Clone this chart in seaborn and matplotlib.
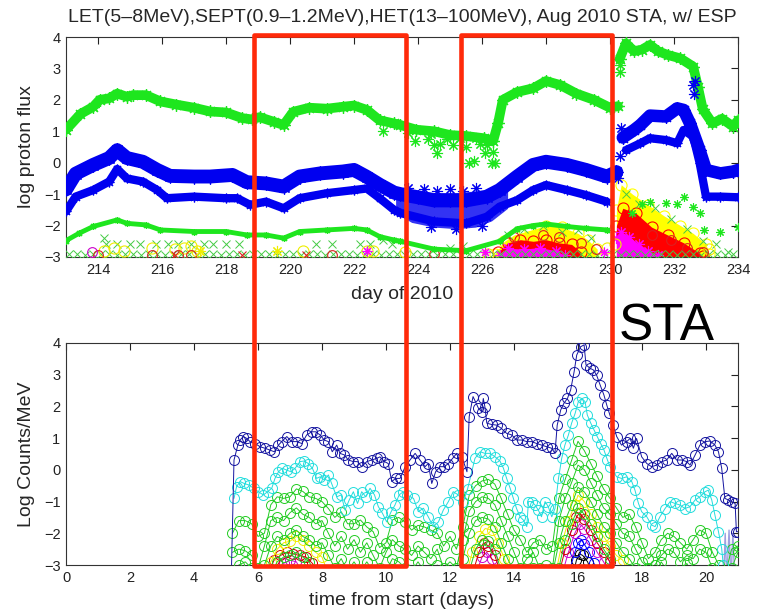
import numpy as np
import matplotlib
matplotlib.use("Agg")
import matplotlib.pyplot as plt
import matplotlib.transforms as mtransforms
from matplotlib.patches import Rectangle
import seaborn as sns

sns.set_theme(style="white")
plt.rcParams["font.family"] = ["Liberation Sans", "DejaVu Sans"]

# ---------------------------------------------------------------- top panel data
# LET 5-8 MeV (upper green band), before and after the day-230 jump
LET_DAY = [213.0, 213.45, 213.85, 214.05, 214.35, 214.6, 214.9, 215.1, 215.5, 215.95,
           216.45, 217.0, 217.5, 218.0, 218.5, 218.8, 219.05, 219.5, 219.8, 220.1,
           220.6, 221.15, 221.65, 222.0, 222.4, 222.8, 223.25, 223.45, 223.95, 224.5,
           225.0, 225.5, 226.05, 226.35, 226.5, 226.65, 227.1, 227.6, 228.0, 228.45,
           228.95, 229.5, 230.0, 230.25]
LET_VAL = [1.05, 1.55, 1.78, 2.0, 2.05, 2.2, 2.1, 2.15, 2.15, 1.95,
           1.85, 1.75, 1.63, 1.6, 1.42, 1.38, 1.45, 1.3, 1.2, 1.62,
           1.75, 1.72, 1.78, 1.82, 1.68, 1.35, 1.25, 1.2, 1.05, 1.0,
           0.88, 0.85, 0.78, 0.7, 1.25, 2.0, 2.25, 2.37, 2.6, 2.47,
           2.2, 2.0, 1.75, 1.8]
LET2_DAY = [230.3, 230.5, 230.75, 231.0, 231.25, 231.5, 231.8, 232.2, 232.6, 232.75,
            232.9, 233.2, 233.5, 233.85, 234.0]
LET2_VAL = [3.3, 3.8, 3.55, 3.6, 3.75, 3.55, 3.43, 3.32, 3.06, 2.4,
            1.7, 1.25, 1.4, 1.15, 1.35]
LET_OUT_DAY = [222.9, 223.7, 223.9, 224.3, 224.4, 224.5, 224.6, 224.7, 224.9, 225.1, 225.3,
               225.5, 225.6, 225.75, 225.8, 225.95, 226.1, 226.15, 226.3, 226.35, 226.4,
               230.3, 230.32]
LET_OUT_VAL = [1.0, 0.95, 0.7, 0.75, 0.9, 0.55, 0.3, 0.6, 0.75, 0.55, 0.8,
               0.5, 0.0, 0.05, 0.8, 0.6, 0.3, 0.55, 0.0, 0.35, 0.0,
               2.9, 3.1]

# SEPT 0.9-1.2 MeV (upper blue band)
SEPT_DAY = [213.0, 213.3, 213.85, 214.35, 214.6, 214.9, 215.4, 215.85, 216.25, 217.0,
            217.5, 218.2, 218.65, 219.25, 219.8, 220.3, 220.95, 221.65, 222.0, 222.4,
            222.8, 223.25, 223.45, 224.0, 224.5, 225.0, 225.5, 226.15, 226.55, 227.1,
            227.6, 228.0, 228.65, 229.25, 229.9, 230.2]
SEPT_VAL = [-0.85, -0.35, -0.07, 0.15, 0.4, 0.15, 0.03, -0.23, -0.42, -0.44,
            -0.44, -0.39, -0.62, -0.66, -0.76, -0.44, -0.34, -0.28, -0.23, -0.45,
            -0.7, -0.95, -1.0, -1.1, -1.2, -1.2, -1.2, -1.08, -0.87, -0.44,
            -0.07, 0.03, -0.07, -0.23, -0.44, -0.3]
SEPT2_DAY = [230.4, 230.75, 230.95, 231.25, 231.75, 232.1, 232.3, 232.5, 232.8, 233.0,
             233.45, 233.85, 234.0]
SEPT2_VAL = [0.8, 1.04, 1.2, 1.5, 1.47, 1.73, 1.68, 1.25, 0.4, -0.23,
             -0.34, -0.28, -0.23]
SEPT_OUT_DAY = [223.7, 224.2, 224.6, 225.0, 225.4, 225.8, 224.4, 225.2, 226.0, 230.25,
                230.3, 230.35, 232.6, 232.62, 232.65]
SEPT_OUT_VAL = [-0.8, -0.85, -0.9, -0.85, -0.9, -0.8, -2.05, -2.1, -2.0, -0.5,
                0.2, 1.1, 2.47, 2.2, 2.6]
# broad scatter of the two blue channels during days 223-227
SPREAD_DAY = [223.3, 223.8, 224.5, 225.2, 225.8, 226.3, 226.8]
SPREAD_TOP = [-0.9, -0.85, -0.95, -0.95, -0.9, -0.95, -0.8]
SPREAD_BOT = [-1.6, -1.9, -2.05, -2.1, -2.05, -1.85, -1.45]

# HET 13-100 MeV (lower blue band)
HET_DAY = [213.0, 213.3, 213.85, 214.35, 214.6, 214.9, 215.4, 215.85, 216.15, 217.0,
           218.0, 218.35, 218.75, 219.25, 219.8, 220.3, 221.15, 222.0, 222.4, 222.8,
           223.25, 223.45, 224.5, 225.5, 226.15, 226.55, 227.1, 227.6, 228.0, 228.65,
           229.25, 229.9]
HET_VAL = [-1.55, -1.08, -0.87, -0.6, -0.2, -0.5, -0.6, -0.87, -1.13, -1.08,
           -1.13, -1.13, -1.34, -1.24, -1.45, -1.13, -0.97, -0.87, -0.82, -1.13,
           -1.5, -1.6, -1.87, -1.93, -1.72, -1.4, -1.19, -0.87, -0.71, -0.87,
           -1.03, -1.24]
HET2_DAY = [230.5, 230.95, 231.25, 231.75, 232.1, 232.3, 232.6, 232.8, 233.0, 233.45, 234.0]
HET2_VAL = [0.4, 0.62, 0.78, 0.72, 0.62, 1.04, 0.83, 0.0, -1.08, -1.08, -1.1]

# lower green band
GLO_DAY = [213.0, 213.4, 213.85, 214.6, 214.9, 215.5, 215.95, 217.0, 218.0, 218.65,
           219.25, 219.8, 220.3, 221.15, 222.0, 222.4, 222.8, 223.25, 223.45, 224.5,
           225.5, 226.55, 227.1, 227.6, 228.0, 228.65, 229.25, 229.9]
GLO_VAL = [-2.48, -2.25, -2.03, -1.82, -1.93, -1.98, -2.14, -2.19, -2.19, -2.3,
           -2.3, -2.4, -2.19, -2.14, -2.09, -2.14, -2.35, -2.46, -2.5, -2.75,
           -2.8, -2.5, -2.1, -2.0, -1.95, -2.03, -2.09, -2.14]
GLO2_DAY = [230.7, 231.0, 231.25, 231.75, 232.1, 232.3, 232.6, 232.8, 232.95, 233.45, 234.0]
GLO2_VAL = [-1.6, -1.3, -1.24, -1.29, -1.3, -1.08, -1.4, -1.6, -2.15, -2.2, -2.05]

# row of green crosses near the floor
XROW_DAY = [213.1, 213.35, 213.6, 213.85, 214.1, 214.35, 214.6, 214.85, 215.1, 215.35,
            215.6, 215.85, 216.1, 216.35, 216.6, 216.85, 217.1, 217.35, 217.6, 217.85,
            218.1, 218.35, 218.6, 218.85, 219.1, 219.35, 219.6, 219.85, 220.1, 220.35,
            220.6, 220.85, 221.1, 221.35, 221.6, 221.85, 222.1, 222.35, 222.6, 222.85,
            223.1, 223.35, 223.6, 223.85, 224.1, 224.35, 224.6, 224.85, 225.1, 225.35,
            225.6, 225.85, 226.1, 226.35, 226.6, 226.85, 227.1, 227.35, 227.6, 227.85,
            228.1, 228.35, 228.6, 228.85, 229.1, 229.35, 229.6, 229.85, 230.1, 230.35,
            230.6, 230.85, 231.1, 231.35, 231.6, 231.85, 232.1, 232.35, 232.6, 232.85,
            233.1, 233.35, 233.6, 233.85]
XROW_VAL = [-2.92, -2.9, -2.93, -2.91, -2.92, -2.9, -2.93, -2.92, -2.91, -2.93,
            -2.9, -2.92, -2.93, -2.91, -2.92, -2.9, -2.93, -2.92, -2.91, -2.93,
            -2.9, -2.92, -2.93, -2.91, -2.92, -2.9, -2.93, -2.92, -2.91, -2.93,
            -2.9, -2.92, -2.93, -2.91, -2.92, -2.9, -2.93, -2.92, -2.91, -2.93,
            -2.9, -2.92, -2.93, -2.91, -2.92, -2.9, -2.93, -2.92, -2.91, -2.93,
            -2.9, -2.92, -2.93, -2.91, -2.92, -2.9, -2.93, -2.92, -2.91, -2.93,
            -2.9, -2.92, -2.93, -2.91, -2.92, -2.9, -2.93, -2.92, -2.91, -2.93,
            -2.9, -2.92, -2.93, -2.91, -2.92, -2.9, -2.93, -2.92, -2.91, -2.93,
            -2.9, -2.92, -2.93, -2.91]
XHI_DAY = [214.2, 214.25, 214.6, 215.0, 215.3, 215.8, 216.2, 216.5, 216.9, 217.3, 217.6,
           218.0, 218.4, 220.8, 221.3, 222.2, 222.5, 222.9, 223.2, 225.0, 225.4,
           226.8, 227.3, 227.9, 228.5, 229.0, 229.4, 230.5, 230.9, 231.4, 231.9,
           232.4, 232.9, 233.3, 233.7]
XHI_VAL = [-2.4, -2.6, -2.6, -2.6, -2.6, -2.6, -2.6, -2.6, -2.6, -2.6, -2.6,
           -2.6, -2.6, -2.6, -2.6, -2.6, -2.6, -2.45, -2.6, -2.7, -2.65,
           -2.3, -2.1, -2.0, -2.2, -2.15, -2.4, -1.0, -1.3, -1.45, -1.8,
           -2.1, -2.5, -2.6, -2.85]

# particle bursts (yellow / red / magenta envelopes)
YEL1_DAY = [226.4, 226.7, 227.0, 227.5, 228.0, 228.5, 229.0, 229.3, 229.6]
YEL1_TOP = [-2.9, -2.5, -2.3, -2.15, -2.0, -2.05, -2.25, -2.45, -2.75]
RED1_DAY = [226.5, 226.8, 227.2, 227.6, 228.0, 228.4, 228.8, 229.1]
RED1_TOP = [-2.85, -2.55, -2.45, -2.5, -2.45, -2.55, -2.6, -2.85]
MAG1_DAY = [226.55, 226.8, 227.3, 227.8, 228.3, 228.6]
MAG1_TOP = [-2.95, -2.72, -2.75, -2.7, -2.8, -2.95]
YEL2_DAY = [230.2, 230.35, 230.7, 231.2, 231.7, 232.2, 232.6, 233.0, 233.1]
YEL2_TOP = [-1.5, -0.7, -1.0, -1.35, -1.7, -2.0, -2.25, -2.6, -2.9]
RED2_DAY = [230.2, 230.4, 230.8, 231.3, 231.8, 232.3, 232.8, 232.9]
RED2_TOP = [-2.0, -1.45, -1.6, -2.05, -2.3, -2.55, -2.88, -2.98]
MAG2_DAY = [230.2, 230.35, 230.6, 230.9, 231.2, 231.5]
MAG2_TOP = [-2.4, -2.2, -2.35, -2.6, -2.8, -2.95]

YC_DAY = [214.2, 214.5, 214.8, 215.7, 216.4, 216.7, 216.9, 217.1, 220.4, 222.4, 222.6, 223.6,
          226.2, 229.9, 230.15, 233.1]
YC_VAL = [-2.8, -2.7, -2.8, -2.7, -2.75, -2.7, -2.65, -2.8, -2.8, -2.8, -2.8, -2.85,
          -2.9, -2.7, -2.6, -2.75]
RC_DAY = [214.0, 215.7, 216.5, 216.9, 221.3, 224.5, 227.0, 227.9, 228.4, 229.1, 229.55,
          231.3, 231.9, 232.4, 232.9]
RC_VAL = [-2.95, -2.95, -2.95, -2.95, -2.95, -2.9, -2.35, -2.3, -2.35, -2.55, -2.75,
          -2.3, -2.45, -2.7, -2.85]
RX_DAY = [216.4, 218.5, 220.5]
RX_VAL = [-2.95, -2.95, -2.95]
MC_DAY = [213.8]
MC_VAL = [-2.85]
MS_DAY = [222.4, 226.1, 229.8]
MS_VAL = [-2.8, -2.85, -2.85]
YS_DAY = [217.2, 219.6]
YS_VAL = [-2.8, -2.8]

# ------------------------------------------------------------- bottom panel data
NAVY_T = [5.15, 5.25, 5.37, 5.44, 5.54, 5.65, 5.75, 5.91, 6.06, 6.22, 6.38, 6.51, 6.64, 6.74,
          6.9, 7.05, 7.21, 7.37, 7.52, 7.68, 7.8, 7.94, 8.07, 8.2, 8.32, 8.46, 8.56, 8.7,
          8.82, 8.98, 9.11, 9.24, 9.4, 9.55, 9.71, 9.81, 9.95, 10.07, 10.18, 10.3, 10.44,
          10.6, 10.75, 10.91, 11.06, 11.22, 11.32, 11.43, 11.55, 11.69, 11.82, 11.95, 12.08,
          12.21, 12.37, 12.53, 12.6, 12.72, 12.89, 12.99, 13.04, 13.09, 13.15, 13.3, 13.46,
          13.6, 13.77, 13.93, 14.08, 14.24, 14.4, 14.55, 14.71, 14.86, 15.02, 15.18, 15.28,
          15.35, 15.46, 15.56, 15.67, 15.77, 15.88, 15.96, 16.08, 16.19, 16.25, 16.38, 16.48,
          16.58, 16.69, 16.81, 16.9, 16.98, 17.1, 17.21, 17.36, 17.52, 17.63, 17.73, 17.83,
          17.99, 18.15, 18.3, 18.46, 18.62, 18.77, 18.93, 19.08, 19.24, 19.4, 19.5, 19.66,
          19.81, 19.97, 20.13, 20.28, 20.39, 20.49, 20.59, 20.7, 20.8, 20.91, 20.95, 21.0]
NAVY_V = [-4.0, 0.31, 0.78, 0.94, 1.05, 0.99, 0.89, 0.83, 0.73, 0.68, 0.62, 0.57, 0.78, 0.89,
          1.05, 0.89, 0.89, 0.83, 1.1, 1.2, 1.2, 1.1, 0.94, 0.89, 0.57, 0.78, 0.52, 0.47,
          0.31, 0.26, 0.26, 0.1, 0.26, 0.31, 0.36, 0.41, 0.26, 0.2, -0.37, -0.27, -0.27,
          0.1, 0.31, 0.52, 0.31, 0.1, 0.2, -0.43, -0.06, 0.1, 0.1, 0.2, 0.36,
          0.52, 0.41, -0.06, 1.68, 2.31, 1.94, 1.83, 2.25, 1.99, 1.47, 1.43, 1.41,
          1.31, 1.15, 1.1, 0.94, 0.94, 0.89, 0.89, 0.83, 0.78, 0.73, 0.68, 0.52,
          1.41, 1.89, 2.1, 2.25, 2.52, 3.1, 3.62, 3.88, 3.94, 3.31, 3.2, 3.15,
          2.99, 2.68, 2.36, 2.04, 1.78, 1.4, 1.05, 0.78, 0.89, 0.99, 0.68, 0.99,
          0.41, 0.2, 0.1, 0.15, 0.26, 0.31, 0.52, 0.31, 0.31, 0.26, 0.15, 0.47,
          0.78, 0.89, 0.91, 0.78, 0.57, 0.05, -0.9, -0.95, -1.0, -1.06, -1.95, -1.95]

CYAN_T = [5.25, 5.33, 5.44, 5.57, 5.72, 5.86, 6.01, 6.17, 6.3, 6.43, 6.53, 6.64, 6.76, 6.9,
          7.03, 7.16, 7.31, 7.45, 7.57, 7.7, 7.83, 7.94, 8.07, 8.2, 8.3, 8.46, 8.6, 8.72,
          8.85, 8.98, 9.11, 9.24, 9.37, 9.5, 9.64, 9.76, 9.89, 10.02, 10.16, 10.28, 10.41,
          10.54, 10.65, 10.86, 11.01, 11.17, 11.32, 11.48, 11.64, 11.79, 11.95, 12.1, 12.26,
          12.42, 12.55, 12.78, 12.94, 13.09, 13.25, 13.41, 13.56, 13.67, 13.77, 13.88, 13.98,
          14.08, 14.19, 14.29, 14.4, 14.45, 14.55, 14.66, 14.76, 14.86, 14.97, 15.07, 15.18,
          15.28, 15.39, 15.49, 15.59, 15.7, 15.8, 15.91, 16.01, 16.12, 16.22, 16.29, 16.4,
          16.5, 16.6, 16.71, 16.81, 16.92, 17.0, 17.21, 17.36, 17.52, 17.68, 17.78, 17.89,
          17.99, 18.15, 18.3, 18.41, 18.56, 18.72, 18.88, 19.03, 19.19, 19.34, 19.5, 19.66,
          19.81, 19.97, 20.07, 20.18, 20.28, 20.39, 20.49, 20.54]
CYAN_V = [-0.9, -0.53, -0.37, -0.43, -0.48, -0.58, -0.69, -0.79, -0.69, -0.58, -0.27, -0.06, 0.05, -0.01,
          -0.06, 0.05, 0.26, 0.28, 0.2, 0.05, -0.27, -0.22, -0.32, -0.16, -0.43, -0.85, -0.79, -1.27,
          -0.95, -0.69, -1.06, -0.69, -0.85, -0.58, -0.79, -1.16, -1.37, -1.64, -1.32, -1.11, -0.79,
          -0.69, -0.79, -0.9, -1.32, -1.21, -1.48, -1.79, -1.64, -1.27, -1.0, -0.69, -0.79,
          -1.0, -0.6, 0.36, 0.57, 0.52, 0.52, 0.41, 0.28, 0.05, -0.27, -0.58, -0.9,
          -1.22, -1.48, -1.58, -1.79, -1.0, -1.0, -1.11, -1.27, -1.48, -1.0, -1.16, -1.48,
          -1.22, -0.27, 0.36, 0.78, 1.1, 1.47, 1.78, 2.15, 2.25, 2.15, 1.73, 1.47,
          1.26, 1.05, 0.83, 0.63, 0.31, 0.1, -0.22, -0.27, -0.22, -0.37, -0.64, -1.06,
          -1.32, -1.48, -1.74, -1.79, -1.48, -1.22, -1.0, -1.06, -1.11, -1.22, -1.16, -0.95,
          -0.85, -0.69, -0.64, -0.95, -1.43, -1.95, -2.48, -3.0]

T_G = [5.2, 5.4, 5.6, 5.8, 6.0, 6.2, 6.4, 6.6, 6.8, 7.0, 7.2, 7.4, 7.6, 7.8, 8.0, 8.2,
       8.4, 8.6, 8.8, 9.0, 9.2, 9.4, 9.6, 9.8, 10.0, 10.2, 10.4, 10.6, 10.8, 11.0, 11.2,
       11.4, 11.6, 11.8, 12.0, 12.2, 12.4, 12.6, 12.8, 13.0, 13.2, 13.4, 13.6, 13.8, 14.0,
       14.2, 14.4, 14.6, 14.8, 15.0, 15.2, 15.4, 15.6, 15.8, 16.0, 16.2, 16.4, 16.6, 16.8,
       17.0, 17.2, 17.4, 17.6, 17.8, 18.0, 18.2, 18.4, 18.6, 18.8, 19.0, 19.2, 19.4, 19.6,
       19.8, 20.0, 20.2, 20.4, 20.6, 20.8, 21.0]
G1_V = [-2.0, -1.6, -1.6, -1.7, -2.1, -2.0, -1.1, -0.85, -0.9, -0.85, -0.6, -0.68, -0.85, -0.9, -1.0, -1.22,
        -1.5, -1.32, -1.7, -1.7, -1.58, -1.8, -1.95, -2.45, -2.3, -1.58, -1.5, -1.65, -1.9, -1.75, -1.8,
        -1.9, -2.0, -2.4, -2.1, -2.5, -1.8, -0.8, -0.5, -0.35, -0.3, -0.45, -0.9, -1.4, -1.9,
        -2.2, -2.6, -2.3, -2.2, -2.5, -2.4, -0.9, -0.3, 0.3, 0.9, 0.6, 0.2, -0.2, -0.6,
        -0.9, -1.2, -1.5, -1.4, -1.8, -2.3, -2.8, -2.6, -2.2, -2.0, -2.1, -2.3, -2.5, -2.2,
        -1.9, -2.0, -2.6, -3.0, -3.3, -2.5, -2.4]
G2_V = [-2.6, -2.5, -2.55, -2.7, -3.1, -2.4, -1.6, -1.5, -1.6, -1.35, -1.2, -1.4, -1.5, -1.7, -1.6, -2.0,
        -2.4, -2.1, -2.5, -2.2, -2.6, -2.3, -2.7, -3.1, -2.6, -2.2, -2.4, -2.5, -2.7, -2.4, -2.6,
        -2.8, -2.5, -3.1, -2.9, -3.1, -2.2, -1.3, -1.0, -0.85, -0.9, -1.1, -1.6, -2.1, -2.6,
        -3.1, -2.8, -2.6, -3.1, -3.0, -3.1, -1.6, -0.9, -0.4, 0.15, 0.0, -0.4, -0.8, -1.2,
        -1.4, -1.7, -2.0, -2.1, -2.5, -2.9, -3.1, -3.0, -2.7, -2.5, -2.6, -2.9, -2.7, -2.8,
        -2.5, -2.6, -3.1, -3.2, -3.2, -3.1, -2.6]
G3_V = [-3.2, -3.0, -2.9, -3.1, -3.3, -3.0, -2.4, -2.1, -2.2, -2.0, -1.9, -2.1, -2.2, -2.4, -2.3, -2.7,
        -3.1, -2.8, -3.2, -2.9, -3.2, -2.9, -3.2, -3.3, -3.2, -2.8, -2.9, -3.1, -3.2, -2.9, -3.2,
        -3.3, -3.0, -3.3, -3.3, -3.3, -2.8, -2.0, -1.6, -1.5, -1.55, -1.8, -2.3, -2.8, -3.2,
        -3.3, -3.2, -3.1, -3.3, -3.3, -3.3, -2.3, -1.6, -1.1, -0.55, -0.7, -1.0, -1.4, -1.8,
        -2.0, -2.3, -2.6, -2.8, -3.1, -3.3, -3.3, -3.3, -2.9, -3.2, -3.3, -3.3, -2.95, -3.3,
        -3.3, -3.3, -3.3, -3.3, -3.3, -3.3, -3.3]
G4_T = [6.4, 6.6, 6.8, 7.0, 7.2, 7.4, 7.6, 7.8, 12.6, 12.8, 13.0, 13.2, 13.4, 13.6,
        15.4, 15.6, 15.8, 16.0, 16.2, 16.4, 16.6, 16.8, 17.0, 17.2]
G4_V = [-3.3, -2.9, -2.75, -2.7, -2.6, -2.75, -2.9, -3.3, -3.2, -2.5, -2.2, -2.25, -2.5, -3.2,
        -3.1, -2.2, -1.7, -1.2, -1.4, -1.7, -2.1, -2.5, -2.8, -3.2]
YEL_T = [6.2, 6.4, 6.6, 6.8, 7.0, 7.2, 7.4, 7.6, 7.8, 8.0, 8.2, 12.5, 12.7, 12.9, 13.1, 13.3,
         13.5, 13.7, 13.9, 15.3, 15.5, 15.7, 15.9, 16.0, 16.2, 16.4, 16.6, 16.8, 17.0, 17.2,
         17.4, 17.6]
YEL_V = [-3.3, -2.9, -2.5, -2.3, -2.25, -2.1, -2.2, -2.4, -2.6, -2.75, -3.3, -3.3, -2.6, -2.1, -1.85, -1.9,
         -2.3, -2.8, -3.3, -3.3, -2.3, -1.6, -1.1, -0.8, -1.0, -1.4, -1.8, -2.1, -2.4, -2.7,
         -2.85, -3.3]
RED_T = [6.3, 6.5, 6.7, 6.9, 7.1, 7.3, 7.5, 7.7, 7.9, 12.7, 12.9, 13.05, 13.2, 13.4, 13.6,
         15.4, 15.6, 15.8, 15.95, 16.05, 16.2, 16.4, 16.6, 16.8, 17.0, 17.2]
RED_V = [-3.3, -2.85, -2.7, -2.6, -2.65, -2.7, -2.75, -2.95, -3.3, -3.3, -2.6, -2.3, -2.4, -2.7, -3.3,
         -3.3, -2.5, -1.9, -1.5, -1.35, -1.55, -1.9, -2.3, -2.6, -2.9, -3.3]
MAG_T = [6.6, 6.8, 7.0, 7.2, 7.4, 12.8, 13.0, 13.15, 13.3, 13.5, 15.5, 15.7, 15.9, 16.05,
         16.2, 16.4, 16.6, 16.8, 17.0]
MAG_V = [-3.3, -2.95, -2.85, -2.9, -3.3, -3.3, -2.75, -2.6, -2.8, -3.3, -3.3, -2.6, -2.0, -1.7,
         -1.85, -2.2, -2.6, -2.9, -3.3]
BLU_T = [15.7, 15.9, 16.0, 16.1, 16.2, 16.35, 16.5, 16.7]
BLU_V = [-3.3, -2.6, -2.3, -2.2, -2.35, -2.6, -2.95, -3.3]
BLK_T = [15.85, 15.95, 16.05, 16.15, 16.3, 16.45]
BLK_V = [-3.3, -2.85, -2.65, -2.7, -2.9, -3.3]
LAV_T = [20.55, 20.6, 20.65, 20.72, 20.78, 20.84, 20.9]
LAV_V = [-3.5, -2.0, -3.5, -1.9, -3.5, -2.0, -3.5]

# highlighted intervals (day of year)
WINDOWS = [(218.89, 223.63), (225.33, 230.07)]

TITLE = "LET(5\u20138MeV),SEPT(0.9\u20131.2MeV),HET(13\u2013100MeV), Aug 2010 STA, w/ ESP"

# ---------------------------------------------------------------------- colours
C_GREEN = "#1ee61e"
C_BLUE = "#0000f0"
C_XGREEN = "#44cc44"
C_YEL = "#ffff00"
C_RED = "#ff0000"
C_MAG = "#ff00ff"

fig = plt.figure(figsize=(7.57, 6.13), dpi=100)
ax1 = fig.add_axes([0.0872, 0.5808, 0.8877, 0.3588])
ax2 = fig.add_axes([0.0872, 0.0783, 0.8877, 0.3622])

AST = (8, 2, 0)


def band(ax, d, v, color, lw, ms, z):
    sns.lineplot(x=d, y=v, ax=ax, color=color, lw=lw, estimator=None, sort=False,
                 solid_capstyle="round", zorder=z)
    ax.plot(d, v, ls="none", marker=AST, ms=ms, mew=0.9, color=color, zorder=z)


def pts(ax, d, v, color, marker, ms, mew=0.8, z=5, mfc="none"):
    ax.plot(d, v, ls="none", marker=marker, ms=ms, mew=mew, mec=color,
            mfc=mfc, color=color, zorder=z)


# ---- top panel
band(ax1, LET_DAY, LET_VAL, C_GREEN, 7, 9, 3)
band(ax1, LET2_DAY, LET2_VAL, C_GREEN, 7, 9, 3)
pts(ax1, LET_OUT_DAY, LET_OUT_VAL, C_GREEN, AST, 8, z=3)
ax1.fill_between(SPREAD_DAY, SPREAD_BOT, SPREAD_TOP, color=C_BLUE, alpha=0.8, lw=0, zorder=3.9)
band(ax1, SEPT_DAY, SEPT_VAL, C_BLUE, 10, 10, 4)
band(ax1, SEPT2_DAY, SEPT2_VAL, C_BLUE, 9, 9, 4)
pts(ax1, SEPT_OUT_DAY, SEPT_OUT_VAL, C_BLUE, AST, 8, z=4)
band(ax1, HET_DAY, HET_VAL, C_BLUE, 6, 7, 4)
band(ax1, HET2_DAY, HET2_VAL, C_BLUE, 6, 7, 4)
band(ax1, GLO_DAY, GLO_VAL, C_GREEN, 3.5, 5, 3)
pts(ax1, GLO2_DAY, GLO2_VAL, C_GREEN, AST, 6, z=3)

ax1.fill_between(YEL1_DAY, -3, YEL1_TOP, color=C_YEL, lw=0, zorder=2)
ax1.fill_between(YEL2_DAY, -3, YEL2_TOP, color=C_YEL, lw=0, zorder=2)
pts(ax1, YEL1_DAY, YEL1_TOP, C_YEL, "o", 8, z=2)
pts(ax1, YEL2_DAY, YEL2_TOP, C_YEL, "o", 8, z=2)
ax1.fill_between(RED1_DAY, -3, RED1_TOP, color=C_RED, lw=0, zorder=2.2)
ax1.fill_between(RED2_DAY, -3, RED2_TOP, color=C_RED, lw=0, zorder=2.2)
pts(ax1, RED1_DAY, RED1_TOP, C_RED, "o", 8, z=2.2)
pts(ax1, RED2_DAY, RED2_TOP, C_RED, "o", 8, z=2.2)
ax1.fill_between(MAG1_DAY, -3, MAG1_TOP, color=C_MAG, lw=0, zorder=2.4)
ax1.fill_between(MAG2_DAY, -3, MAG2_TOP, color=C_MAG, lw=0, zorder=2.4)
pts(ax1, MAG1_DAY, MAG1_TOP, C_MAG, AST, 8, z=2.4)
pts(ax1, MAG2_DAY, MAG2_TOP, C_MAG, AST, 8, z=2.4)

pts(ax1, XROW_DAY, XROW_VAL, C_XGREEN, "x", 6, mew=0.7, z=2.6)
pts(ax1, XHI_DAY, XHI_VAL, C_XGREEN, "x", 6, mew=0.7, z=2.6)
pts(ax1, YC_DAY, YC_VAL, "#eeee00", "o", 8, z=2.7)
pts(ax1, RC_DAY, RC_VAL, "#dd2020", "o", 7, z=2.8)
pts(ax1, RX_DAY, RX_VAL, "#dd2020", "x", 6, z=2.8)
pts(ax1, MC_DAY, MC_VAL, "#cc00cc", "o", 7, z=2.8)
pts(ax1, MS_DAY, MS_VAL, C_MAG, AST, 7, z=2.8)
pts(ax1, YS_DAY, YS_VAL, "#eeee00", AST, 8, z=2.8)

ax1.set_xlim(213, 234)
ax1.set_ylim(-3, 4)
ax1.set_xticks(range(214, 235, 2))
ax1.set_yticks(range(-3, 5))
ax1.set_xlabel("day of 2010", fontsize=14, labelpad=7)
ax1.set_ylabel("log proton flux", fontsize=14, labelpad=6)
ax1.set_title(TITLE, fontsize=14, pad=11)

# ---- bottom panel
def series(t, v, color, z, lw=0.7):
    sns.lineplot(x=t, y=v, ax=ax2, color=color, lw=lw, estimator=None, sort=False,
                 marker="o", markersize=7.2, markerfacecolor="none",
                 markeredgecolor=color, markeredgewidth=0.7, zorder=z)


sns.lineplot(x=LAV_T, y=LAV_V, ax=ax2, color="#9f9fe0", lw=1.0, estimator=None,
             sort=False, zorder=1.9)
series(BLK_T, BLK_V, "#000000", 2)
series(BLU_T, BLU_V, "#0000ff", 2.1)
series(MAG_T, MAG_V, "#cc00cc", 2.2)
series(RED_T, RED_V, "#cc0000", 2.3)
series(YEL_T, YEL_V, "#eeee00", 2.4)
series(G4_T, G4_V, "#22cc22", 2.5)
series(T_G, G3_V, "#22cc22", 2.6)
series(T_G, G2_V, "#22cc22", 2.7)
series(T_G, G1_V, "#22cc22", 2.8)
series(CYAN_T, CYAN_V, "#22dddd", 2.9)
series(NAVY_T, NAVY_V, "#1414a0", 3.0)

ax2.set_xlim(0, 21)
ax2.set_ylim(-3, 4)
ax2.set_xticks(range(0, 21, 2))
ax2.set_yticks(range(-3, 5))
ax2.set_xlabel("time from start (days)", fontsize=14, labelpad=5)
ax2.set_ylabel("Log Counts/MeV", fontsize=14, labelpad=6)

for ax in (ax1, ax2):
    ax.set_facecolor("white")
    ax.grid(False)
    ax.tick_params(direction="in", top=True, right=True, length=5, width=0.8,
                   labelsize=10.5, colors="#222222", pad=4)
    for s in ax.spines.values():
        s.set_color("#333333")
        s.set_linewidth(0.8)
        s.set_visible(True)

fig.text(667 / 757, 1 - 327 / 613, "STA", fontsize=37, ha="center", va="center", color="black")

# highlighted intervals drawn across both panels
blend = mtransforms.blended_transform_factory(ax1.transData, fig.transFigure)
for d0, d1 in WINDOWS:
    fig.add_artist(Rectangle((d0, 0.0762), d1 - d0, 0.8659, transform=blend, fill=False,
                             ec="#ff2a0a", lw=3.3, joinstyle="round", zorder=20, clip_on=False))

fig.savefig("out.png", dpi=100)
